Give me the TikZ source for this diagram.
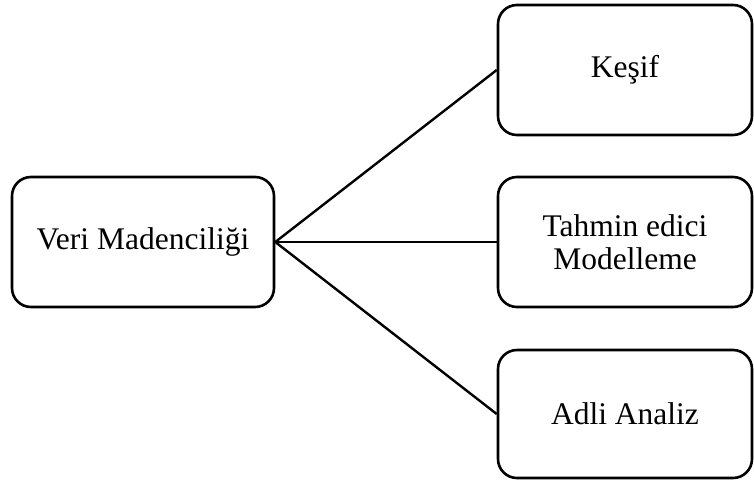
\documentclass[tikz,border=0pt]{standalone}
\usepackage{fontspec}
\setmainfont{Liberation Serif}
\begin{document}
\begin{tikzpicture}[x=1pt, y=-1pt,
  box/.style={draw=black, line width=2.6pt, rounded corners=19pt, fill=white,
    minimum width=#1, align=center, inner sep=0pt,
    font=\fontsize{31.5}{33}\selectfont},
  box/.default=254pt,
  link/.style={draw=black, line width=2.4pt}]
  \useasboundingbox (0,0) rectangle (754,482);
  % root and its three branches
  \node[box=262pt, minimum height=130pt] (root) at (143,242) {Veri Madenciliği};
  \node[box, minimum height=130pt] (kesif) at (625,70) {Keşif};
  \node[box, minimum height=130pt] (tahmin) at (625,242) {Tahmin edici\\Modelleme};
  \node[box, minimum height=128pt] (adli) at (625,414) {Adli Analiz};
  % connectors from the root
  \draw[link] (root.east) -- (kesif.west);
  \draw[link] (root.east) -- (tahmin.west);
  \draw[link] (root.east) -- (adli.west);
\end{tikzpicture}
\end{document}
